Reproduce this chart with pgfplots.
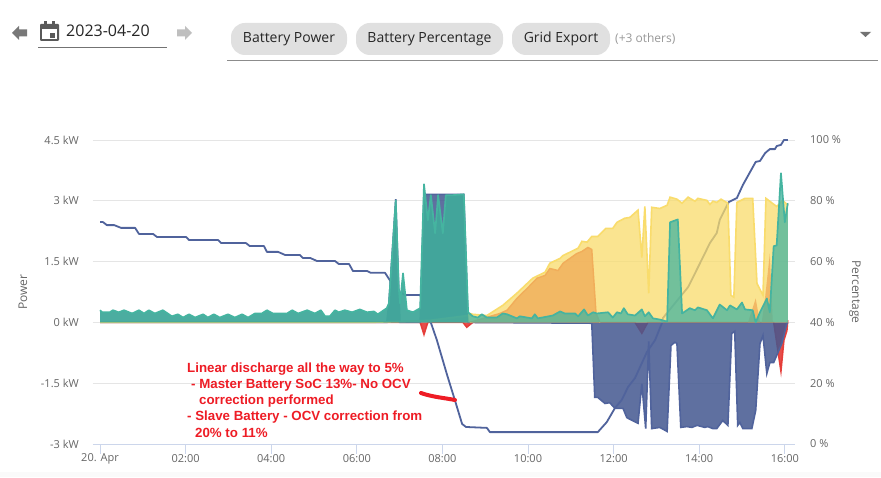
\documentclass[border=0pt]{standalone}
\usepackage{pgfplots}
\usepackage{pgfplotstable}
\usepackage{fontspec}
\pgfplotsset{compat=1.18}
\setmainfont{Open Sans}
\newfontfamily\annot{Liberation Sans}
\definecolor{cteal}{HTML}{45B4A0}
\definecolor{cteald}{HTML}{35808A}
\definecolor{cyellow}{HTML}{F9DC6C}
\definecolor{corange}{HTML}{F1AD5A}
\definecolor{cblue}{HTML}{445890}
\definecolor{cline}{HTML}{50639C}
\definecolor{cred}{HTML}{E53A36}
\definecolor{ctxt}{HTML}{666666}
\definecolor{cann}{HTML}{EE1C25}
\definecolor{caxis}{HTML}{CCD6EB}
\tikzset{tl/.style={font=\fontsize{11}{13}\selectfont, text=ctxt},
         tt/.style={font=\fontsize{12}{14}\selectfont, text=ctxt}}
\pgfplotstableread{
h kw
0.00 0.30
0.05 0.25
0.23 0.25
0.30 0.30
0.44 0.25
0.56 0.30
0.75 0.22
0.91 0.30
1.03 0.22
1.14 0.30
1.28 0.22
1.47 0.30
1.68 0.15
1.82 0.20
1.94 0.12
2.08 0.20
2.22 0.12
2.41 0.20
2.52 0.12
2.66 0.20
2.80 0.12
2.99 0.20
3.15 0.12
3.32 0.20
3.46 0.12
3.62 0.22
3.78 0.22
3.90 0.30
4.04 0.22
4.37 0.22
4.49 0.30
4.63 0.22
4.84 0.30
5.02 0.22
5.16 0.30
5.26 0.15
5.37 0.15
5.49 0.30
5.58 0.25
5.72 0.30
5.89 0.25
6.07 0.32
6.24 0.25
6.40 0.27
6.49 0.20
6.70 0.35
6.75 0.47
6.91 3.01
6.98 0.86
7.01 0.47
7.08 1.21
7.17 0.30
7.31 0.25
7.48 0.35
7.57 3.41
7.66 2.52
7.73 3.14
7.83 2.20
7.90 3.14
8.01 2.20
8.08 3.14
8.25 3.14
8.50 3.16
8.60 0.25
8.71 0.15
8.83 0.12
8.92 0.20
9.04 0.12
9.27 0.12
9.41 0.22
9.51 0.20
9.74 0.10
9.81 0.15
10.09 0.10
10.16 0.20
10.23 0.10
10.58 0.17
10.75 0.27
10.86 0.22
11.10 0.22
11.17 0.15
11.31 0.32
11.40 0.17
11.52 0.25
11.61 0.22
11.87 0.25
11.98 0.12
12.08 0.25
12.17 0.22
12.24 0.35
12.33 0.20
12.50 0.17
12.66 0.32
12.73 0.15
12.82 0.25
12.92 0.10
13.08 0.07
13.25 0.02
13.32 2.47
13.50 2.54
13.60 0.22
13.78 0.35
13.90 0.30
13.97 0.37
14.18 0.30
14.32 0.10
14.48 0.44
14.65 0.30
14.72 0.42
14.88 0.32
15.00 0.49
15.07 0.32
15.25 0.30
15.32 0.00
15.42 0.25
15.58 0.59
15.65 0.25
15.74 1.88
15.81 1.90
15.91 3.68
16.00 2.47
16.07 2.94
}\tealdata
\pgfplotstableread{
h kw
0.00 0.00
6.31 0.00
7.71 0.05
8.60 0.17
8.64 0.22
8.71 0.20
9.04 0.17
9.41 0.42
9.74 0.72
10.11 1.09
10.40 1.24
10.51 1.46
10.75 1.58
10.82 1.65
11.17 1.83
11.26 2.00
11.38 1.98
11.49 2.12
11.63 2.12
11.82 2.32
11.98 2.32
12.08 2.47
12.26 2.57
12.38 2.59
12.57 2.77
12.66 1.60
12.73 2.86
12.82 0.72
12.89 2.84
13.08 2.81
13.25 2.89
13.32 3.09
13.48 3.04
13.60 2.94
13.74 3.09
13.90 2.99
13.97 3.06
14.18 3.01
14.25 2.91
14.32 2.99
14.41 2.96
14.51 3.04
14.67 2.94
14.74 0.67
14.81 0.62
14.88 2.96
15.07 3.06
15.25 3.06
15.35 0.96
15.49 0.67
15.56 3.06
15.81 2.86
15.95 3.01
16.07 2.89
}\yellowdata
\pgfplotstableread{
h kw
8.64 0.00
9.34 0.22
9.51 0.30
9.74 0.59
10.00 0.86
10.21 1.09
10.40 1.16
10.51 1.33
10.70 1.28
10.82 1.46
11.14 1.70
11.26 1.75
11.40 1.85
11.49 1.80
11.59 0.22
11.68 0.00
15.14 0.00
15.32 0.59
15.42 0.00
15.46 0.00
15.54 0.62
15.65 1.70
15.72 0.00
16.07 0.00
}\orangedata
\pgfplotstableread{
h kw
0.00 0.00
6.70 0.00
6.75 0.47
6.91 3.04
6.98 0.80
7.01 0.00
7.48 0.00
7.57 3.16
8.50 3.16
8.60 0.00
11.49 -0.02
11.56 -1.85
11.63 -1.85
11.80 -2.00
11.91 -1.98
12.03 -2.12
12.22 -2.12
12.31 -2.35
12.57 -2.49
12.66 -1.51
12.75 -2.62
12.82 -0.47
12.89 -2.62
13.08 -2.59
13.25 -2.69
13.34 -0.57
13.43 -0.49
13.48 -0.52
13.57 -2.59
13.71 -2.57
13.83 -2.59
13.95 -2.54
14.13 -2.59
14.20 -2.57
14.32 -2.62
14.41 -2.62
14.55 -2.42
14.67 -2.54
14.76 -0.27
14.83 -0.22
14.90 -2.54
14.95 -2.47
15.02 -2.62
15.23 -2.62
15.32 -2.17
15.42 -0.52
15.49 -0.32
15.58 -1.26
15.65 -0.99
15.74 -0.99
15.93 -0.52
16.05 -0.02
16.07 0.00
}\bluedata
\pgfplotstableread{
h kw
0.00 0.00
7.48 0.00
7.57 -0.30
7.66 0.00
8.48 0.00
8.57 -0.12
8.71 0.00
12.50 0.00
12.66 -0.27
12.80 0.00
15.74 0.00
15.91 -1.21
15.98 -0.44
16.05 -0.20
16.07 0.05
}\reddata
\pgfplotstableread{
h pct
0.00 73.0
0.07 73.0
0.16 72.0
0.33 72.0
0.49 71.1
0.82 71.1
0.91 69.1
1.24 69.1
1.33 68.1
2.01 68.1
2.08 67.1
2.76 67.1
2.83 66.1
3.41 66.1
3.50 65.1
3.83 65.1
3.90 63.2
4.16 63.2
4.32 62.2
4.67 62.2
4.74 61.2
4.91 61.2
5.07 60.2
5.49 60.2
5.58 59.2
5.82 59.2
5.91 56.9
6.24 56.9
6.33 56.3
6.66 56.3
6.77 53.9
6.91 50.7
7.13 49.0
7.48 49.0
7.59 45.7
7.87 34.2
8.11 22.7
8.29 14.5
8.46 6.6
8.55 5.6
9.04 5.3
9.11 3.9
11.63 3.9
11.84 7.2
12.03 11.8
12.19 14.5
12.34 18.8
12.50 21.7
12.78 30.3
12.97 34.2
13.13 39.8
13.15 41.4
13.74 51.6
14.02 59.5
14.25 66.1
14.41 69.4
14.48 73.7
14.69 79.6
14.88 80.9
15.02 85.2
15.32 92.8
15.42 93.1
15.54 95.7
15.65 97.0
15.77 97.0
15.81 98.0
15.91 98.4
15.98 100
16.07 100
}\pctdata
\pgfplotsset{
  base/.style={
    at={(93pt,33pt)}, anchor=south west,
    scale only axis, width=702pt, height=304pt,
    xmin=-0.1636, xmax=16.2383,
    clip=false,
  },
}
\begin{document}
\begin{tikzpicture}[x=1pt,y=1pt]
\path[use as bounding box, fill=white] (0,0) rectangle (881,477);
\fill[black!2] (0,0) rectangle (881,5);
% background axis: grid, left scale, battery power and the discharge spikes
\begin{axis}[base,
  ymin=-3, ymax=4.5,
  axis x line*=bottom, axis y line*=left,
  x axis line style={draw=none},
  y axis line style={draw=none},
  ytick={-3,-1.5,0,1.5,3,4.5},
  yticklabels={-3 kW,-1.5 kW,0 kW,1.5 kW,3 kW,4.5 kW},
  xtick={0,2,4,6,8,10,12,14,16},
  xticklabels={20. Apr,02:00,04:00,06:00,08:00,10:00,12:00,14:00,16:00},
  ymajorgrids, grid style={draw=black!10, line width=1pt},
  xtick style={draw=none}, ytick style={draw=none},
  xticklabel style={tl, inner sep=0pt, anchor=center, yshift=-15pt},
  yticklabel style={tl, inner sep=0pt, anchor=east, xshift=-14pt},
  ylabel={Power},
  ylabel style={tt, at={(axis description cs:-0.0997,0.5)}, anchor=center},
]
\addplot[draw=none, fill=cred, fill opacity=.9] table[x=h,y=kw] {\reddata} \closedcycle;
\addplot[draw=cred, line width=1.5pt, opacity=.95] table[x=h,y=kw] {\reddata};
\addplot[draw=none, fill=cblue, fill opacity=.85] table[x=h,y=kw] {\bluedata} \closedcycle;
\addplot[draw=cline, line width=1.6pt] table[x=h,y=kw] {\bluedata};
\end{axis}
% axis line and x ticks
\draw[caxis, line width=1pt] (93,33) -- (795,33);
\foreach \tx in {100,185.6,271.2,356.8,442.4,528,613.6,699.2,784.8}
  \draw[caxis, line width=1pt] (\tx,33) -- (\tx,23);
% percentage
\begin{axis}[base,
  ymin=0, ymax=100,
  axis x line=none,
  axis y line*=right,
  y axis line style={draw=none},
  ytick={0,20,40,60,80,100},
  yticklabels={0 \%,20 \%,40 \%,60 \%,80 \%,100 \%},
  ytick style={draw=none},
  yticklabel style={tl, inner sep=0pt, anchor=west, xshift=15pt},
  ylabel={Percentage},
  ylabel style={tt, at={(axis description cs:1.0855,0.5)}, anchor=center, rotate=180},
]
\addplot[draw=cline, line width=1.8pt, line join=round] table[x=h,y=pct] {\pctdata};
\end{axis}
% solar, charging and export areas
\begin{axis}[base, ymin=-3, ymax=4.5, hide axis]
\addplot[draw=none, fill=cyellow, fill opacity=.75] table[x=h,y=kw] {\yellowdata} \closedcycle;
\addplot[draw=cyellow, line width=1.6pt] table[x=h,y=kw] {\yellowdata};
\addplot[draw=none, fill=corange, fill opacity=.8] table[x=h,y=kw] {\orangedata} \closedcycle;
\addplot[draw=corange, line width=1.4pt, restrict x to domain=8.6:11.7] table[x=h,y=kw] {\orangedata};
\addplot[draw=none, fill=cteald, fill opacity=.8, restrict x to domain=0:8.65] table[x=h,y=kw] {\tealdata} \closedcycle;
\addplot[draw=none, fill=cteal, fill opacity=.75] table[x=h,y=kw] {\tealdata} \closedcycle;
\addplot[draw=cteal, line width=1.7pt, line join=round] table[x=h,y=kw] {\tealdata};
\end{axis}
% annotation and page controls, in page pixels measured from the top
\begin{scope}[shift={(0,477)}, y=-1pt]
\draw[cann, line width=4pt, line cap=round] (421,393) .. controls (432,397) and (445,398) .. (455,400);
\begin{scope}[every node/.style={anchor=west, inner sep=0pt, text=cann, font=\annot\bfseries\fontsize{13.3}{15}\selectfont}]
\node at (187,369) {Linear discharge all the way to 5\%};
\node at (191,385) {- Master Battery SoC 13\%- No OCV};
\node at (199,401) {correction performed};
\node at (187,417) {- Slave Battery - OCV correction from};
\node at (195,433) {20\% to 11\%};
\end{scope}
% left arrow
\fill[black!53] (12,33) -- (19,26) -- (19,29.5) -- (27,29.5) -- (27,36.5) -- (19,36.5) -- (19,40) -- cycle;
% calendar icon
\fill[black!65, rounded corners=1pt] (40,24) rectangle (59,41);
\fill[black!65] (44,21) rectangle (47,25);
\fill[black!65] (52,21) rectangle (55,25);
\fill[white] (42,29) rectangle (57,39);
\fill[black!65] (50,33) rectangle (55,38);
\node[anchor=west, inner sep=0pt, font=\fontsize{16}{19}\selectfont, text=black!85] at (66,31) {2023-04-20};
\draw[black!55, line width=1pt] (38,47.5) -- (167,47.5);
% right arrow
\fill[black!25] (192,33) -- (185,26) -- (185,29.5) -- (177,29.5) -- (177,36.5) -- (185,36.5) -- (185,40) -- cycle;
% chips
\fill[black!12, rounded corners=14pt] (231,23) rectangle (347,55);
\fill[black!12, rounded corners=14pt] (356,23) rectangle (503,55);
\fill[black!12, rounded corners=14pt] (512,23) rectangle (610,55);
\begin{scope}[every node/.style={anchor=center, inner sep=0pt, font=\fontsize{14}{17}\selectfont, text=black!85}]
\node at (289,39) {Battery Power};
\node at (429.5,39) {Battery Percentage};
\node at (561,39) {Grid Export};
\end{scope}
\node[anchor=west, inner sep=0pt, font=\fontsize{12}{14}\selectfont, text=black!40] at (615,39) {(+3 others)};
\fill[black!55] (860,32) -- (871,32) -- (865.5,37) -- cycle;
\draw[black!45, line width=1pt] (227,60.5) -- (878,60.5);
\end{scope}
\end{tikzpicture}
\end{document}
